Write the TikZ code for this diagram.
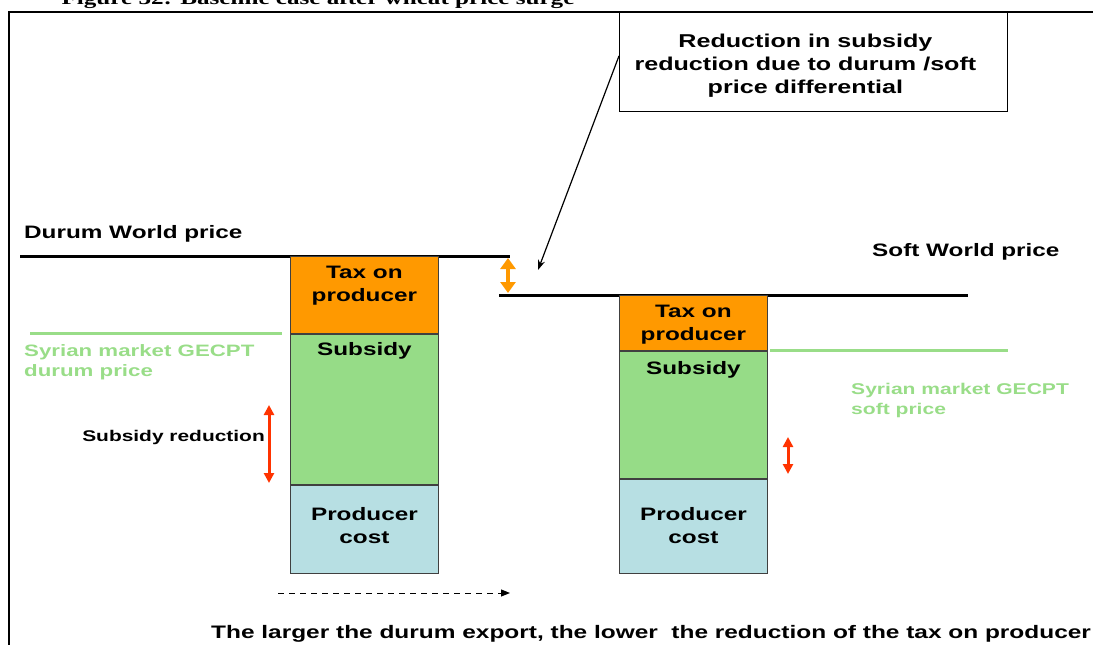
\documentclass[tikz,border=0pt]{standalone}
\usepackage{fontspec}
\newfontfamily\labfont[FakeStretch=1.35]{Liberation Sans}
\newfontfamily\capfont[FakeStretch=1.35]{Liberation Serif}
\usetikzlibrary{arrows.meta, positioning}
\definecolor{taxorange}{HTML}{FF9900}
\definecolor{subgreen}{HTML}{96DC87}
\definecolor{costblue}{HTML}{B7DFE3}
\definecolor{mktgreen}{HTML}{99DD88}
\definecolor{redarrow}{HTML}{FF3300}

\begin{document}
\begin{tikzpicture}[x=1pt, y=-1pt,
    bar/.style={draw=black!75, line width=0.8pt, minimum width=148, inner sep=0pt, anchor=north west},
    bar text/.style={font=\labfont\bfseries\fontsize{18}{23}\selectfont, align=center, inner sep=0pt},
    big text/.style={font=\labfont\bfseries\fontsize{18}{23}\selectfont, inner sep=0pt},
    market text/.style={font=\labfont\bfseries\fontsize{16}{20}\selectfont, text=mktgreen, align=left, inner sep=0pt, anchor=north west},
    price line/.style={line width=3pt},
    market line/.style={line width=3pt, mktgreen},
    change arrow/.style={line width=3pt, {Triangle[length=10pt,width=10pt]}-{Triangle[length=10pt,width=10pt]}}]
\useasboundingbox (0,0) rectangle (1093,645);
\node[anchor=base, font=\capfont\bfseries\fontsize{18.6}{22}\selectfont, inner sep=0pt] (caption) at (318,5) {Figure 32: Baseline case after wheat price surge};
\draw[line width=2.5pt] (9,660) -- (9,12) -- (1100,12);

\node[draw, line width=0.8pt, anchor=north west, minimum width=388, minimum height=99] (note) at (619,12) {};
\node[align=center, inner sep=0pt, font=\labfont\bfseries\fontsize{18.6}{23}\selectfont] (notetext) at ([xshift=-8pt, yshift=-4pt]note.center) {Reduction in subsidy\\reduction due to durum /soft\\price differential};
\coordinate (gap) at (538,270);
\draw[line width=1.2pt, -{Stealth[length=10pt,width=7pt]}] ([yshift=6pt]note.west) -- (gap);

\node[big text, anchor=base west] (durum) at (24,238) {Durum World price};
\node[big text, anchor=base west] (soft) at (872,256) {Soft World price};
\coordinate (dw0) at (20,256);
\coordinate (dw1) at (510,256);
\coordinate (sw0) at (499,295);
\coordinate (sw1) at (968,295);
\draw[price line] (dw0) -- (dw1);
\draw[price line] (sw0) -- (sw1);
\coordinate (od0) at (508,258);
\coordinate (od1) at (508,293);
\draw[line width=4pt, taxorange, {Triangle[length=11pt,width=15pt]}-{Triangle[length=11pt,width=15pt]}] (od0) -- (od1);

\node[bar, fill=taxorange, minimum height=77] (ltax) at (290,256) {};
\node[bar, fill=subgreen, minimum height=150, below=0pt of ltax] (lsub) {};
\node[bar, fill=costblue, minimum height=88, below=0pt of lsub] (lcost) {};
\node[bar text, below=10pt of ltax.north] (ltaxtext) {Tax on\\producer};
\node[bar text, below=8pt of lsub.north] (lsubtext) {Subsidy};
\node[bar text] (lcosttext) at ([yshift=3pt]lcost.center) {Producer\\cost};

\node[bar, fill=taxorange, minimum height=55] (rtax) at (619,295) {};
\node[bar, fill=subgreen, minimum height=127, below=0pt of rtax] (rsub) {};
\node[bar, fill=costblue, minimum height=94, below=0pt of rsub] (rcost) {};
\node[bar text, below=10pt of rtax.north] (rtaxtext) {Tax on\\producer};
\node[bar text, below=10pt of rsub.north] (rsubtext) {Subsidy};
\node[bar text] (rcosttext) at (rcost.center) {Producer\\cost};

\coordinate (lm0) at (30,333);
\coordinate (lm1) at (282,333);
\coordinate (rm0) at (770,350);
\coordinate (rm1) at (1008,350);
\draw[market line] (lm0) -- (lm1);
\draw[market line] (rm0) -- (rm1);
\node[market text, font=\labfont\bfseries\fontsize{16.5}{20}\selectfont] (lmarket) at (24,344) {Syrian market GECPT\\durum price};
\node[market text, font=\labfont\bfseries\fontsize{15.6}{20}\selectfont] (rmarket) at (851,383) {Syrian market GECPT\\soft price};

\node[anchor=east, inner sep=0pt, font=\labfont\bfseries\fontsize{15.5}{19}\selectfont] (subred) at (265,437) {Subsidy reduction};
\coordinate (lr0) at (269,405);
\coordinate (lr1) at (269,483);
\coordinate (rr0) at (788,437);
\coordinate (rr1) at (788,474);
\draw[change arrow, redarrow] (lr0) -- (lr1);
\draw[change arrow, redarrow] (rr0) -- (rr1);

\coordinate (ex0) at (278,593);
\coordinate (ex1) at (510,593);
\draw[line width=1pt, dash pattern=on 6pt off 5pt, -{Triangle[length=9pt,width=7pt]}] (ex0) -- (ex1);
\node[big text, anchor=base west, font=\labfont\bfseries\fontsize{18.1}{23}\selectfont] (bottom) at (211,638) {The larger the durum export, the lower\ \ the reduction of the tax on producer};
\end{tikzpicture}
\end{document}
